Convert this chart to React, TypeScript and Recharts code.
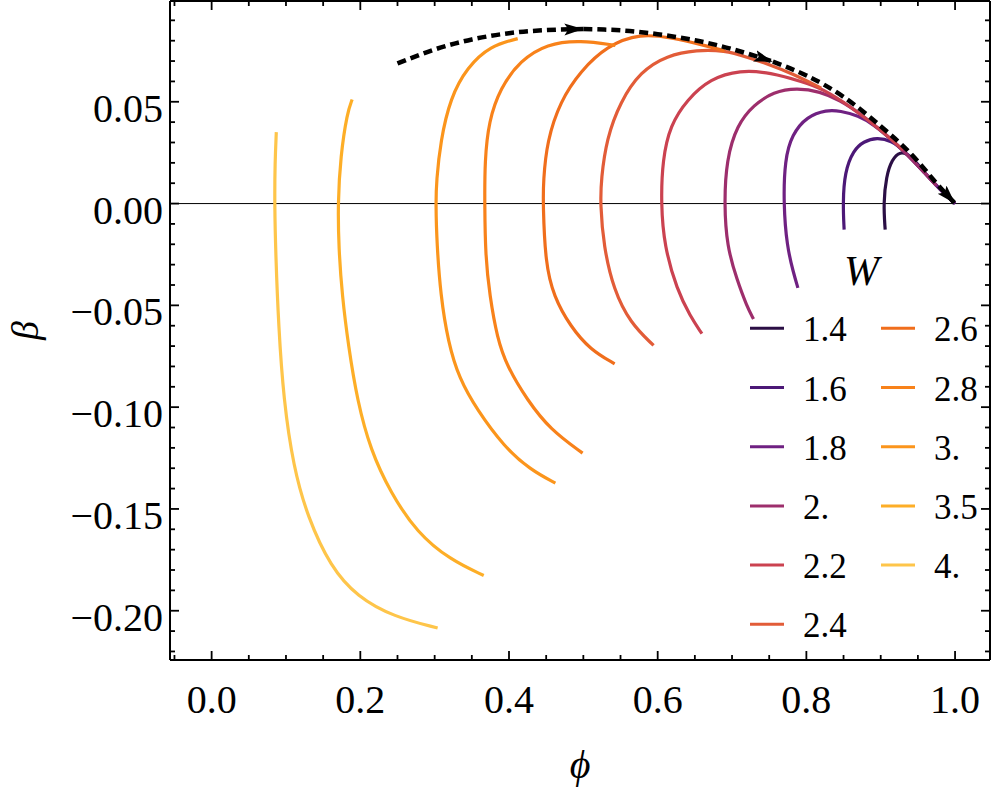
import { LineChart, Line, XAxis, YAxis, ReferenceLine, Legend } from "recharts"

// W values in legend order, with their colours (inferno-like ramp)
const wLabels = ["1.4", "1.6", "1.8", "2.", "2.2", "2.4", "2.6", "2.8", "3.", "3.5", "4."]
const wColors = [
  "#2b0f45", "#4c1877", "#6f2182", "#9d2e6c", "#cb4250", "#e25c38",
  "#f06e1c", "#f8821a", "#fb951c", "#fdae27", "#fec54a",
]

// curves as [phi, beta] pairs
const w14 = [[0.906, -0.0128], [0.9036, 0], [0.9075, 0.0135], [0.9149, 0.0215], [0.926, 0.0258], [0.94, 0.0238], [0.96, 0.0147], [0.98, 0.0068], [1.0, 0]]
const w16 = [[0.8508, -0.0128], [0.8491, 0], [0.8515, 0.0155], [0.8633, 0.0262], [0.8768, 0.0305], [0.8948, 0.0325], [0.9149, 0.0308], [0.93, 0.0265], [0.96, 0.0147], [0.98, 0.0068], [1.0, 0]]
const w18 = [[0.7886, -0.0414], [0.7827, -0.0341], [0.7738, -0.021], [0.7692, 0], [0.771, 0.0216], [0.7805, 0.0338], [0.8006, 0.0428], [0.8275, 0.046], [0.8454, 0.0455], [0.87, 0.0432], [0.89, 0.039], [0.92, 0.0298], [0.95, 0.0188], [0.98, 0.0068], [1.0, 0]]
const w20 = [[0.7289, -0.0567], [0.72, -0.0505], [0.7066, -0.0374], [0.6931, -0.021], [0.6895, 0], [0.6925, 0.0216], [0.7066, 0.0385], [0.7289, 0.0484], [0.7558, 0.0549], [0.7872, 0.0568], [0.8185, 0.055], [0.845, 0.0508], [0.87, 0.0448], [0.9, 0.0362], [0.93, 0.0263], [0.96, 0.0147], [0.975, 0.0088]]
const w22 = [[0.6595, -0.0639], [0.6438, -0.0554], [0.6259, -0.0423], [0.6089, -0.021], [0.6044, 0], [0.6065, 0.0216], [0.6169, 0.0385], [0.6394, 0.051], [0.6707, 0.0614], [0.711, 0.0656], [0.7513, 0.0644], [0.7961, 0.0597], [0.82, 0.0567], [0.86, 0.0476], [0.9, 0.0362], [0.93, 0.0263]]
const w24 = [[0.5945, -0.0697], [0.5632, -0.0587], [0.5407, -0.0423], [0.5273, -0.021], [0.5228, 0], [0.524, 0.012], [0.5312, 0.0318], [0.5497, 0.05], [0.5766, 0.0648], [0.6125, 0.0728], [0.6528, 0.0755], [0.69, 0.0752], [0.72, 0.072], [0.75, 0.0683], [0.78, 0.064], [0.82, 0.0567]]
const w26 = [[0.5421, -0.0787], [0.5094, -0.0718], [0.4825, -0.0603], [0.4601, -0.0456], [0.4489, -0.0292], [0.4458, 0], [0.4462, 0.011], [0.451, 0.0306], [0.469, 0.0503], [0.496, 0.065], [0.5318, 0.0775], [0.5766, 0.0836], [0.62, 0.0814], [0.66, 0.078], [0.69, 0.075]]
const w28 = [[0.499, -0.1226], [0.4556, -0.1111], [0.4243, -0.0964], [0.3974, -0.08], [0.384, -0.066], [0.374, -0.045], [0.3683, -0.0259], [0.3673, 0], [0.3674, 0.0208], [0.3727, 0.0405], [0.3884, 0.0569], [0.4153, 0.0703], [0.451, 0.0785], [0.496, 0.0803], [0.543, 0.0777]]
const w30 = [[0.4624, -0.1373], [0.4288, -0.1308], [0.393, -0.1193], [0.357, -0.1013], [0.333, -0.086], [0.318, -0.068], [0.308, -0.045], [0.303, -0.02], [0.3015, 0], [0.3024, 0.011], [0.3078, 0.0306], [0.3212, 0.052], [0.3437, 0.0669], [0.375, 0.0775], [0.4117, 0.081]]
const w35 = [[0.366, -0.1827], [0.321, -0.175], [0.2765, -0.1618], [0.2406, -0.142], [0.2137, -0.121], [0.196, -0.097], [0.184, -0.07], [0.1755, -0.045], [0.171, -0.022], [0.1698, 0], [0.1734, 0.0233], [0.1824, 0.0447], [0.189, 0.0511]]
const w40 = [[0.304, -0.2085], [0.245, -0.203], [0.196, -0.1932], [0.16, -0.1785], [0.129, -0.1539], [0.11, -0.1293], [0.0968, -0.0964], [0.09, -0.06], [0.0862, -0.025], [0.0847, 0], [0.0852, 0.02], [0.087, 0.0351]]
const curves = [w14, w16, w18, w20, w22, w24, w26, w28, w30, w35, w40]

// dashed envelope, split where the arrow heads sit
const arrow1 = [[0.25, 0.0688], [0.3, 0.0757], [0.35, 0.0806], [0.4, 0.0837], [0.45, 0.0852], [0.5, 0.0857]]
const arrow2 = [[0.5, 0.0857], [0.55, 0.0851], [0.6, 0.0832], [0.65, 0.0802], [0.7, 0.0759], [0.755, 0.0697]]
const arrow3 = [[0.755, 0.0697], [0.8, 0.0629], [0.85, 0.0524], [0.9, 0.038], [0.94, 0.0247], [0.97, 0.0121], [1.0, 0]]
const arrows = [arrow1, arrow2, arrow3]

const xTicks = [-0.05, 0, 0.05, 0.1, 0.15, 0.2, 0.25, 0.3, 0.35, 0.4, 0.45, 0.5, 0.55, 0.6, 0.65, 0.7, 0.75, 0.8, 0.85, 0.9, 0.95, 1.0]
const xMajor = [0, 0.2, 0.4, 0.6, 0.8, 1.0]
const yTicks = [
  -0.22, -0.21, -0.2, -0.19, -0.18, -0.17, -0.16, -0.15, -0.14, -0.13, -0.12, -0.11, -0.1, -0.09, -0.08, -0.07,
  -0.06, -0.05, -0.04, -0.03, -0.02, -0.01, 0, 0.01, 0.02, 0.03, 0.04, 0.05, 0.06, 0.07, 0.08, 0.09,
]
const yMajor = [-0.2, -0.15, -0.1, -0.05, 0, 0.05]

const SERIF = "'Liberation Serif', 'DejaVu Serif', serif"
const toPts = (arr: number[][]) => arr.map(([p, b]) => ({ p, b }))
const isMajor = (v: number, list: number[]) => list.some(m => Math.abs(m - v) < 1e-9)
const fmtY = (v: number) => (v < 0 ? "\u2212" : "") + Math.abs(v).toFixed(2)

function BottomTick({ x, y, payload }: any) {
  const major = isMajor(payload.value, xMajor)
  return (
    <g>
      <line x1={x} x2={x} y1={y} y2={y - (major ? 9 : 5)} stroke="#000" strokeWidth={1.8} />
      {major && (
        <text x={x} y={y + 53} textAnchor="middle" fontSize={40} fontFamily={SERIF} fill="#000">
          {payload.value.toFixed(1)}
        </text>
      )}
    </g>
  )
}

function TopTick({ x, y, payload }: any) {
  const major = isMajor(payload.value, xMajor)
  return <line x1={x} x2={x} y1={y} y2={y + (major ? 9 : 5)} stroke="#000" strokeWidth={1.8} />
}

function LeftTick({ x, y, payload }: any) {
  const major = isMajor(payload.value, yMajor)
  return (
    <g>
      <line x1={x} x2={x + (major ? 9 : 5)} y1={y} y2={y} stroke="#000" strokeWidth={1.8} />
      {major && (
        <text x={x - 7} y={y + 20} textAnchor="end" fontSize={40} fontFamily={SERIF} fill="#000">
          {fmtY(payload.value)}
        </text>
      )}
    </g>
  )
}

function RightTick({ x, y, payload }: any) {
  const major = isMajor(payload.value, yMajor)
  return <line x1={x} x2={x - (major ? 9 : 5)} y1={y} y2={y} stroke="#000" strokeWidth={1.8} />
}

function WLegend({ payload }: any) {
  const items = (payload ?? []).filter((it: any) => wLabels.includes(it.value))
  return (
    <svg width={257} height={420} style={{ overflow: "visible" }}>
      <text x={104} y={45} fontSize={42} fontStyle="italic" fontFamily={SERIF} fill="#000">W</text>
      {items.map((it: any, i: number) => {
        const col = i < 6 ? 0 : 1
        const row = i < 6 ? i : i - 6
        const lx = col === 0 ? 10 : 141
        const ly = 88.3 + row * 59.2
        return (
          <g key={it.value}>
            <line x1={lx} x2={lx + 34} y1={ly} y2={ly} stroke={it.color} strokeWidth={3} />
            <text x={lx + 53} y={ly + 13} fontSize={35} fontFamily={SERIF} fill="#000">{it.value}</text>
          </g>
        )
      })}
    </svg>
  )
}

function PhiLabel({ viewBox }: any) {
  return (
    <text x={viewBox.x + viewBox.width / 2} y={viewBox.y + 118} textAnchor="middle" fontSize={40}
      fontStyle="italic" fontFamily={SERIF} fill="#000">{"\u03D5"}</text>
  )
}

function BetaLabel({ viewBox }: any) {
  const cx = viewBox.x + 25
  const cy = viewBox.y + viewBox.height / 2
  return (
    <g transform={`translate(${cx},${cy}) rotate(-90)`}>
      <text x={0} y={0} textAnchor="middle" dominantBaseline="central" fontSize={38}
        fontStyle="italic" fontFamily={SERIF} fill="#000">{"\u03B2"}</text>
    </g>
  )
}

export default function App() {
  return (
    <div style={{ position: "absolute", left: 0, top: 0, background: "#fff" }}>
      <svg width={0} height={0} style={{ position: "absolute" }}>
        <defs>
          <marker id="arrowHead" markerUnits="userSpaceOnUse" markerWidth={22} markerHeight={14}
            refX={19} refY={6} orient="auto">
            <path d="M0,0 L19,6 L0,12 L4,6 z" fill="#000" />
          </marker>
        </defs>
      </svg>
      <LineChart width={997} height={792} margin={{ top: 0, right: 0, bottom: 0, left: 0 }}>
        <XAxis dataKey="p" type="number" domain={[-0.056, 1.047]} ticks={xTicks} interval={0}
          allowDataOverflow height={132} tickSize={0} tickMargin={0} tick={<BottomTick />}
          axisLine={{ stroke: "#000", strokeWidth: 2 }} label={<PhiLabel />} />
        <XAxis xAxisId="top" orientation="top" dataKey="p" type="number" domain={[-0.056, 1.047]}
          ticks={xTicks} interval={0} allowDataOverflow height={1} tickSize={0} tickMargin={0}
          tick={<TopTick />} axisLine={{ stroke: "#000", strokeWidth: 2 }} />
        <YAxis dataKey="b" type="number" domain={[-0.2242, 0.0995]} ticks={yTicks} interval={0}
          allowDataOverflow width={170} tickSize={0} tickMargin={0} tick={<LeftTick />}
          axisLine={{ stroke: "#000", strokeWidth: 2 }} label={<BetaLabel />} />
        <YAxis yAxisId="right" orientation="right" type="number" domain={[-0.2242, 0.0995]}
          ticks={yTicks} interval={0} allowDataOverflow width={7} tickSize={0} tickMargin={0}
          tick={<RightTick />} axisLine={{ stroke: "#000", strokeWidth: 2 }} />
        <ReferenceLine y={0} stroke="#000" strokeWidth={1} />
        {curves.map((c, i) => (
          <Line key={wLabels[i]} data={toPts(c)} dataKey="b" name={wLabels[i]} type="basis"
            stroke={wColors[i]} strokeWidth={3.2} dot={false} activeDot={false}
            isAnimationActive={false} />
        ))}
        {arrows.map((a, i) => (
          <Line key={"arrow" + i} data={toPts(a)} dataKey="b" type="natural" stroke="#000"
            strokeWidth={4.5} strokeDasharray="9 5" dot={false} activeDot={false}
            legendType="none" markerEnd="url(#arrowHead)" isAnimationActive={false} />
        ))}
        <Legend layout="horizontal" verticalAlign="middle" align="center" content={<WLegend />}
          wrapperStyle={{ left: 740, top: 240, width: 257, height: 420 }} />
      </LineChart>
    </div>
  )
}
